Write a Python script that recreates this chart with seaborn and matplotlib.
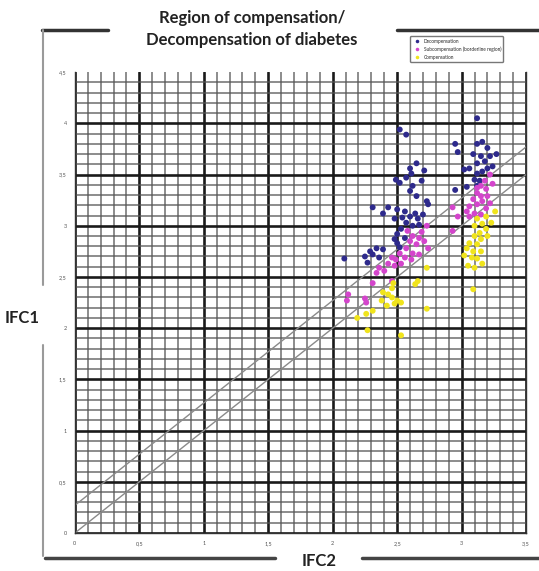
import numpy as np
import pandas as pd
import matplotlib.pyplot as plt
import seaborn as sns
from matplotlib.lines import Line2D
from matplotlib.ticker import MultipleLocator

sns.set_style("white")
plt.rcParams['font.family'] = ['Lato', 'DejaVu Sans']

# data
decomp_x = [2.52, 2.57, 2.65, 2.60, 2.61, 2.57, 2.71, 2.49, 2.52, 2.62, 2.69, 2.60, 2.65,
            2.73, 2.74, 2.31, 2.39, 2.43, 2.50, 2.56, 2.60, 2.54, 2.64, 2.66, 2.70, 2.48,
            2.57, 2.62, 2.67, 2.53, 2.50, 2.56, 2.48, 2.34, 2.29, 2.31, 2.39, 2.36, 2.25,
            2.09, 2.27, 2.50, 2.52,
            3.12, 2.95, 2.97, 3.12, 3.16, 3.20, 3.09, 3.15, 3.22, 3.27, 3.12, 3.18, 3.06,
            3.02, 3.20, 3.24, 3.12, 3.16, 3.10, 3.14, 2.95, 3.04, 3.12]
decomp_y = [3.94, 3.89, 3.61, 3.56, 3.51, 3.47, 3.54, 3.45, 3.42, 3.39, 3.44, 3.34, 3.29,
            3.24, 3.21, 3.18, 3.12, 3.18, 3.16, 3.14, 3.09, 3.08, 3.12, 3.07, 3.11, 3.07,
            3.03, 3.00, 3.01, 2.97, 2.92, 2.88, 2.87, 2.78, 2.75, 2.72, 2.77, 2.69, 2.70,
            2.68, 2.64, 2.83, 2.79,
            4.05, 3.80, 3.72, 3.80, 3.82, 3.76, 3.70, 3.68, 3.68, 3.70, 3.61, 3.63, 3.56,
            3.55, 3.56, 3.58, 3.51, 3.53, 3.45, 3.44, 3.35, 3.38, 3.39]

subcomp_x = [2.62, 2.67, 2.60, 2.65, 2.71, 2.74, 2.57, 2.52, 2.62, 2.67, 2.46, 2.49, 2.56,
             2.61, 2.43, 2.48, 2.53, 2.36, 2.40, 2.34, 2.31, 2.46, 2.12, 2.11, 2.25, 2.26,
             2.73, 2.69, 2.58,
             2.93, 2.97, 2.93, 3.22, 3.18, 3.24, 3.15, 3.19, 3.12, 3.15, 3.20, 3.09, 3.16,
             3.12, 3.06, 3.19, 3.04, 3.10, 3.15, 3.06, 3.22, 3.12]
subcomp_y = [2.90, 2.88, 2.85, 2.82, 2.85, 2.78, 2.78, 2.73, 2.73, 2.72, 2.69, 2.67, 2.69,
             2.67, 2.63, 2.61, 2.63, 2.59, 2.56, 2.54, 2.44, 2.46, 2.33, 2.27, 2.29, 2.25,
             3.00, 2.94, 2.95,
             3.18, 3.09, 2.95, 3.50, 3.44, 3.41, 3.39, 3.36, 3.32, 3.29, 3.29, 3.26, 3.24,
             3.21, 3.19, 3.17, 3.14, 3.12, 3.11, 3.09, 3.22, 3.37]

comp_x = [3.26, 3.19, 3.12, 3.23, 3.16, 3.10, 3.19, 3.14, 3.20, 3.10, 3.15, 3.06, 3.12,
          3.04, 3.09, 3.02, 3.08, 3.12, 3.16, 3.05, 3.10, 3.09, 3.15,
          2.73, 2.66, 2.64, 2.47, 2.46, 2.39, 2.43, 2.46, 2.38, 2.50, 2.53, 2.42, 2.48,
          2.31, 2.26, 2.73, 2.19, 2.27, 2.53]
comp_y = [3.14, 3.09, 3.07, 3.03, 3.02, 3.00, 2.97, 2.93, 2.90, 2.90, 2.87, 2.83, 2.82,
          2.78, 2.75, 2.71, 2.69, 2.68, 2.63, 2.61, 2.59, 2.38, 2.75,
          2.59, 2.46, 2.43, 2.44, 2.39, 2.35, 2.33, 2.30, 2.27, 2.27, 2.25, 2.22, 2.24,
          2.17, 2.14, 2.19, 2.10, 1.98, 1.93]

group_names = ['Decompensation',
               'Subcompensation (borderline region)',
               'Compensation']
group_colors = ['#2e2a8c', '#d445cc', '#f0e41c']

# reference lines y = x + b
line_offsets = [0.0, 0.27]

x_ticks = [0, 0.5, 1, 1.5, 2, 2.5, 3, 3.5]
y_ticks = [0, 0.5, 1, 1.5, 2, 2.5, 3, 3.5, 4, 4.5]

df = pd.concat([
    pd.DataFrame({'IFC2': decomp_x, 'IFC1': decomp_y, 'group': group_names[0]}),
    pd.DataFrame({'IFC2': subcomp_x, 'IFC1': subcomp_y, 'group': group_names[1]}),
    pd.DataFrame({'IFC2': comp_x, 'IFC1': comp_y, 'group': group_names[2]}),
], ignore_index=True)

fig = plt.figure(figsize=(5.39, 5.71), dpi=100)
ax = fig.add_axes([0.139, 0.0666, 0.837, 0.807])

ax.xaxis.set_major_locator(MultipleLocator(0.5))
ax.yaxis.set_major_locator(MultipleLocator(0.5))
ax.xaxis.set_minor_locator(MultipleLocator(0.1))
ax.yaxis.set_minor_locator(MultipleLocator(0.1))
ax.grid(which='minor', color='#555555', lw=1.1, alpha=0.85)
ax.grid(which='major', color='#1a1a1a', lw=1.9)
ax.set_axisbelow(True)

for b in line_offsets:
    ax.axline((0, b), slope=1, color='#8a8a8a', lw=1.0, zorder=1.5)

sns.scatterplot(data=df, x='IFC2', y='IFC1', hue='group',
                palette=dict(zip(group_names, group_colors)),
                s=18, edgecolor='none', ax=ax, zorder=3)

ax.set_xlim(0, 3.5)
ax.set_ylim(0, 4.5)
ax.set_xticks(x_ticks)
ax.set_yticks(y_ticks)
ax.set_xticklabels([f'{t:g}'.replace('.', ',') for t in x_ticks])
ax.set_yticklabels([f'{t:g}'.replace('.', ',') for t in y_ticks])
ax.tick_params(axis='both', which='both', length=0, labelsize=4, labelcolor='#555555', pad=6)
ax.set_xlabel('')
ax.set_ylabel('')
ax.spines['top'].set_visible(False)
for s in ['left', 'bottom', 'right']:
    ax.spines[s].set_color('#333333')
    ax.spines[s].set_linewidth(1.0)

# no horizontal grid line along the top edge
fig.canvas.draw()
for t in ax.yaxis.get_major_ticks():
    if abs(t.get_loc() - 4.5) < 1e-6:
        t.gridline.set_visible(False)
for t in ax.yaxis.get_minor_ticks():
    if t.get_loc() > 4.45:
        t.gridline.set_visible(False)

leg = ax.legend(loc='upper left', bbox_to_anchor=(408 / 539, 1 - 34 / 571),
                bbox_transform=fig.transFigure, fontsize=3.4, markerscale=0.6,
                frameon=True, handletextpad=0.3, borderpad=0.5, labelspacing=0.6)
leg.get_frame().set_edgecolor('#555555')
leg.get_frame().set_linewidth(1.0)

# title and axis names
fig.text(252 / 539, 1 - 29 / 571, 'Region of compensation/\nDecompensation of diabetes',
         ha='center', va='center', fontsize=12, fontweight='bold', color='#222222',
         linespacing=1.5)
fig.text(22 / 539, 1 - 318 / 571, 'IFC1', ha='center', va='center',
         fontsize=12, fontweight='bold', color='#222222')
fig.text(319 / 539, 1 - 561 / 571, 'IFC2', ha='center', va='center',
         fontsize=12, fontweight='bold', color='#222222')

# frame lines around the figure
W, H = 539, 571
frame = [((42, 30), (108, 30), '#333333', 2.5),
         ((397, 30), (539, 30), '#333333', 2.5),
         ((43, 30), (43, 285), '#9a9a9a', 1.5),
         ((43, 345), (43, 556), '#9a9a9a', 1.5),
         ((45, 558), (275, 558), '#444444', 2.5),
         ((362, 558), (539, 558), '#444444', 2.5)]
for (x0, y0), (x1, y1), c, lw in frame:
    fig.add_artist(Line2D([x0 / W, x1 / W], [1 - y0 / H, 1 - y1 / H],
                          color=c, lw=lw, transform=fig.transFigure))

fig.savefig('out.png', dpi=100)
